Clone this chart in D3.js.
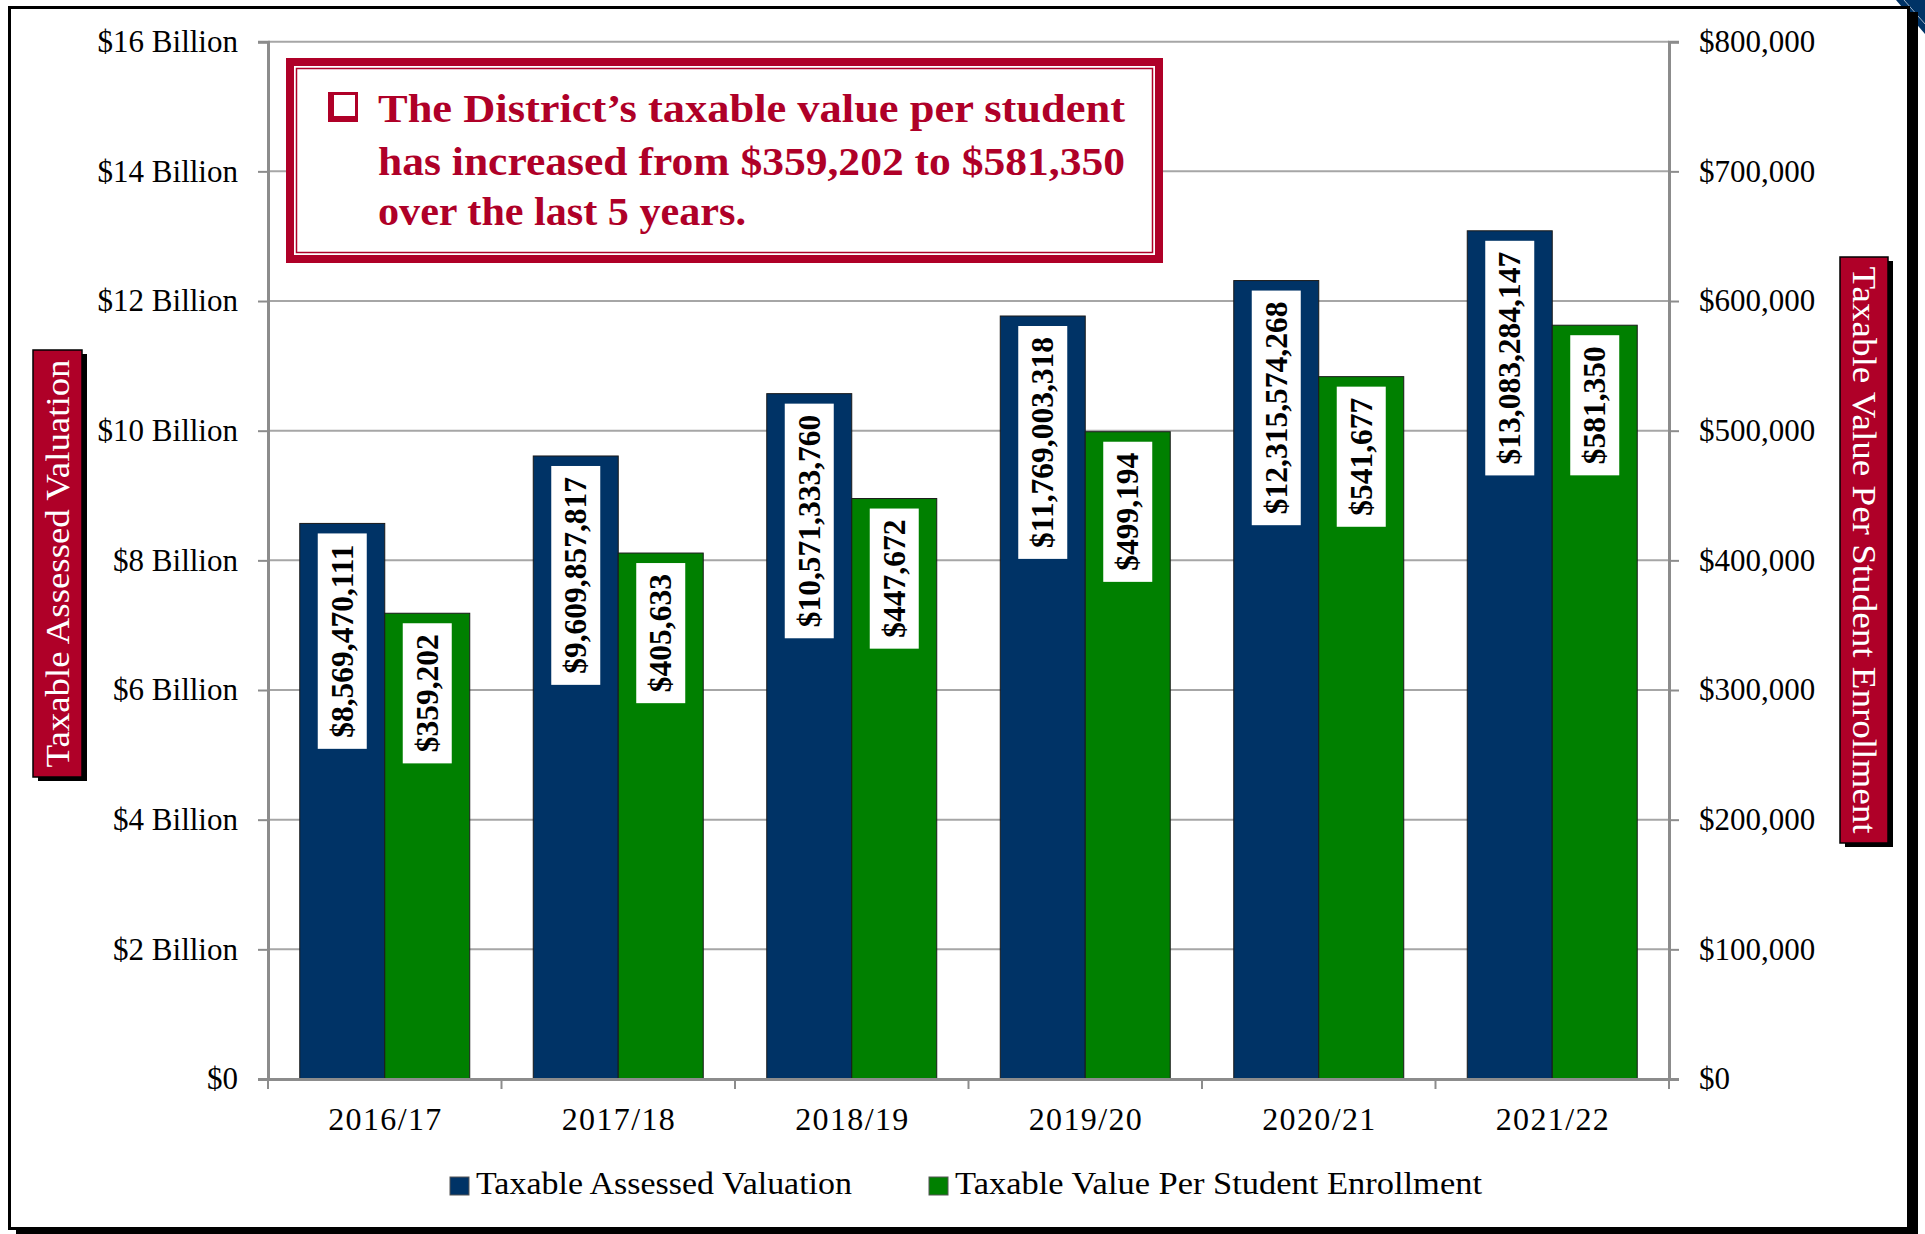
<!DOCTYPE html>
<html>
<head>
<meta charset="utf-8">
<script src="https://cdn.jsdelivr.net/npm/d3@7"></script>
<style>
    body { margin: 0; background: #fff; }
    #chart { width: 1925px; height: 1234px; }
    text { font-family: "Liberation Serif", "Times New Roman", serif; }
</style>
</head>
<body>
<div id="chart"></div>
<script>
// data
const years = ['2016/17', '2017/18', '2018/19', '2019/20', '2020/21', '2021/22'];
const valuation = [8569470111, 9609857817, 10571333760, 11769003318, 12315574268, 13083284147];
const perStudent = [359202, 405633, 447672, 499194, 541677, 581350];
const leftTicks = [0, 2e9, 4e9, 6e9, 8e9, 10e9, 12e9, 14e9, 16e9];
const rightTicks = [0, 100000, 200000, 300000, 400000, 500000, 600000, 700000, 800000];
const seriesNames = ['Taxable Assessed Valuation', 'Taxable Value Per Student Enrollment'];
const calloutLines = [
    'The District\u2019s taxable value per student',
    'has increased from $359,202 to $581,350',
    'over the last 5 years.'
];

class comboBarChart {

    constructor(opts) {
        this.element = opts.element;
        this.width = 1925;
        this.height = 1234;
        this.colors = { blue: '#003366', green: '#008000', red: '#AF0028' };
        this.draw();
    }

    draw() {
        this.margin = { top: 41.7, right: 1669, bottom: 1079, left: 268 };

        this.element.innerHTML = '';
        this.svg = d3.select(this.element).append('svg')
            .attr('width', this.width)
            .attr('height', this.height);

        this.addFrame();
        this.createScales();
        this.addGrid();
        this.addBars();
        this.addAxes();
        this.addLabels();
        this.addTitles();
        this.addCallout();
        this.addLegend();
    }

    addFrame() {
        // slide decoration in the corner
        this.svg.append('polygon')
            .attr('points', '1896,0 1925,0 1925,34')
            .attr('fill', this.colors.blue);
        this.svg.append('line')
            .attr('x1', 1904).attr('y1', 0).attr('x2', 1925).attr('y2', 24)
            .attr('stroke', '#9fb3c8').attr('stroke-width', 1);

        // black drop shadow then the white frame
        this.svg.append('rect')
            .attr('x', 16).attr('y', 12)
            .attr('width', 1902).attr('height', 1240)
            .attr('fill', '#000');
        this.svg.append('rect')
            .attr('x', 9.5).attr('y', 7.5)
            .attr('width', 1899).attr('height', 1221)
            .attr('fill', '#fff')
            .attr('stroke', '#000')
            .attr('stroke-width', 3);
    }

    createScales() {
        const m = this.margin;

        this.x0 = d3.scaleBand()
            .domain(years)
            .range([m.left, m.right])
            .paddingInner(0.272)
            .paddingOuter(0.136);

        this.x1 = d3.scaleBand()
            .domain(['val', 'per'])
            .range([0, this.x0.bandwidth()]);

        this.yLeft = d3.scaleLinear()
            .domain([0, 16e9])
            .range([m.bottom, m.top]);

        this.yRight = d3.scaleLinear()
            .domain([0, 800000])
            .range([m.bottom, m.top]);
    }

    addGrid() {
        const m = this.margin;
        this.svg.append('g')
            .selectAll('line')
            .data(leftTicks.slice(1))
            .join('line')
            .attr('x1', m.left).attr('x2', m.right)
            .attr('y1', d => this.yLeft(d)).attr('y2', d => this.yLeft(d))
            .attr('stroke', '#a6a6a6')
            .attr('stroke-width', 2);
    }

    addBars() {
        const rows = years.map((y, i) => ({ year: y, val: valuation[i], per: perStudent[i] }));

        const groups = this.svg.append('g')
            .selectAll('g')
            .data(rows)
            .join('g')
            .attr('transform', d => `translate(${this.x0(d.year)},0)`);

        groups.append('rect')
            .attr('x', this.x1('val'))
            .attr('width', this.x1.bandwidth())
            .attr('y', d => this.yLeft(d.val))
            .attr('height', d => this.margin.bottom - this.yLeft(d.val))
            .attr('fill', this.colors.blue)
            .attr('stroke', '#1a1a1a')
            .attr('stroke-width', 1);

        groups.append('rect')
            .attr('x', this.x1('per'))
            .attr('width', this.x1.bandwidth())
            .attr('y', d => this.yRight(d.per))
            .attr('height', d => this.margin.bottom - this.yRight(d.per))
            .attr('fill', this.colors.green)
            .attr('stroke', '#1a1a1a')
            .attr('stroke-width', 1);

        this.groups = groups;
    }

    addAxes() {
        const m = this.margin;
        const axisColor = '#8c8c8c';

        const yAxisL = d3.axisLeft(this.yLeft)
            .tickValues(leftTicks)
            .tickSize(10)
            .tickPadding(20)
            .tickFormat(d => d === 0 ? '$0' : `$${d / 1e9} Billion`);

        const yAxisR = d3.axisRight(this.yRight)
            .tickValues(rightTicks)
            .tickSize(10)
            .tickPadding(20)
            .tickFormat(d3.format('$,'));

        const xAxis = d3.axisBottom(this.x0)
            .tickSize(0)
            .tickPadding(28);

        const gl = this.svg.append('g')
            .attr('transform', `translate(${m.left},0)`)
            .call(yAxisL);
        const gr = this.svg.append('g')
            .attr('transform', `translate(${m.right},0)`)
            .call(yAxisR);
        const gx = this.svg.append('g')
            .attr('transform', `translate(0,${m.bottom})`)
            .call(xAxis);

        [gl, gr, gx].forEach(g => {
            g.select('.domain').attr('stroke', axisColor).attr('stroke-width', 3);
            g.selectAll('.tick line').attr('stroke', axisColor).attr('stroke-width', 2);
            g.selectAll('text')
                .attr('fill', '#000')
                .style('font-family', '"Liberation Serif", serif');
        });
        gl.selectAll('text').style('font-size', '31px');
        gr.selectAll('text').style('font-size', '31px');
        gx.selectAll('text').style('font-size', '32px').attr('textLength', 113);

        // little ticks between the categories
        const step = this.x0.step();
        this.svg.append('g')
            .selectAll('line')
            .data(d3.range(years.length + 1))
            .join('line')
            .attr('x1', i => m.left + i * step).attr('x2', i => m.left + i * step)
            .attr('y1', m.bottom).attr('y2', m.bottom + 10)
            .attr('stroke', axisColor)
            .attr('stroke-width', 2);
    }

    addLabels() {
        const fmt = d3.format('$,');
        const addTag = (sel, key, scale) => {
            const cx = this.x1(key) + this.x1.bandwidth() / 2;
            sel.each(function (d) {
                const g = d3.select(this);
                const top = scale(d[key]) + 10;
                const box = g.append('rect')
                    .attr('fill', '#fff');
                const txt = g.append('text')
                    .text(fmt(d[key]))
                    .attr('font-size', 31.5)
                    .attr('font-weight', 'bold')
                    .attr('text-anchor', 'middle')
                    .attr('dominant-baseline', 'central')
                    .attr('fill', '#000');
                const len = txt.node().getComputedTextLength();
                const h = len + 22;
                box.attr('x', cx - 24.5).attr('y', top)
                    .attr('width', 49).attr('height', h);
                txt.attr('transform', `translate(${cx},${top + h / 2}) rotate(-90)`);
            });
        };
        addTag(this.groups, 'val', this.yLeft);
        addTag(this.groups, 'per', this.yRight);
    }

    addTitles() {
        const red = this.colors.red;
        const titleBox = (x, y, w, h, label, rot, len) => {
            this.svg.append('rect')
                .attr('x', x + 5).attr('y', y + 4)
                .attr('width', w).attr('height', h)
                .attr('fill', '#000');
            this.svg.append('rect')
                .attr('x', x).attr('y', y)
                .attr('width', w).attr('height', h)
                .attr('fill', red)
                .attr('stroke', '#000')
                .attr('stroke-width', 1.5);
            this.svg.append('text')
                .attr('transform', `translate(${x + w / 2},${y + h / 2}) rotate(${rot})`)
                .attr('text-anchor', 'middle')
                .attr('dominant-baseline', 'central')
                .attr('font-size', 33)
                .attr('fill', '#fff')
                .attr('textLength', len)
                .attr('lengthAdjust', 'spacingAndGlyphs')
                .text(label);
        };
        titleBox(33, 350, 49, 427, 'Taxable Assessed Valuation', -90, 408);
        titleBox(1840, 257, 48, 586, 'Taxable Value Per Student Enrollment', 90, 567);
    }

    addCallout() {
        const red = this.colors.red;
        const x = 286, y = 58, w = 877, h = 205;
        const g = this.svg.append('g');

        g.append('rect')
            .attr('x', x + 4).attr('y', y + 4)
            .attr('width', w - 8).attr('height', h - 8)
            .attr('fill', '#fff')
            .attr('stroke', red)
            .attr('stroke-width', 8);
        g.append('rect')
            .attr('x', x + 10.5).attr('y', y + 10.5)
            .attr('width', w - 21).attr('height', h - 21)
            .attr('fill', 'none')
            .attr('stroke', red)
            .attr('stroke-width', 1.5);

        // shadowed check box bullet
        g.append('rect')
            .attr('x', 328).attr('y', 92).attr('width', 30).attr('height', 30)
            .attr('fill', red);
        g.append('rect')
            .attr('x', 334).attr('y', 95).attr('width', 21).attr('height', 21)
            .attr('fill', '#fff');

        // line widths measured on the slide; the first two are justified
        const left = 378;
        const baselines = [122, 175, 225];
        const widths = [747, 747, 368];
        calloutLines.forEach((line, i) => {
            g.append('text')
                .attr('x', left).attr('y', baselines[i])
                .attr('font-size', 41)
                .attr('font-weight', 'bold')
                .attr('fill', red)
                .attr('textLength', widths[i])
                .attr('lengthAdjust', 'spacingAndGlyphs')
                .text(line);
        });
    }

    addLegend() {
        const items = [
            { name: seriesNames[0], color: this.colors.blue, x: 450, len: 376 },
            { name: seriesNames[1], color: this.colors.green, x: 929, len: 527 }
        ];
        const lg = this.svg.append('g')
            .selectAll('g')
            .data(items)
            .join('g');
        lg.append('rect')
            .attr('x', d => d.x).attr('y', 1177)
            .attr('width', 19).attr('height', 18)
            .attr('fill', d => d.color)
            .attr('stroke', '#555')
            .attr('stroke-width', 1);
        lg.append('text')
            .attr('x', d => d.x + 26).attr('y', 1194)
            .attr('font-size', 32)
            .attr('fill', '#000')
            .attr('textLength', d => d.len)
            .attr('lengthAdjust', 'spacingAndGlyphs')
            .text(d => d.name);
    }
}

const chart = new comboBarChart({ element: document.getElementById('chart') });
</script>
</body>
</html>
